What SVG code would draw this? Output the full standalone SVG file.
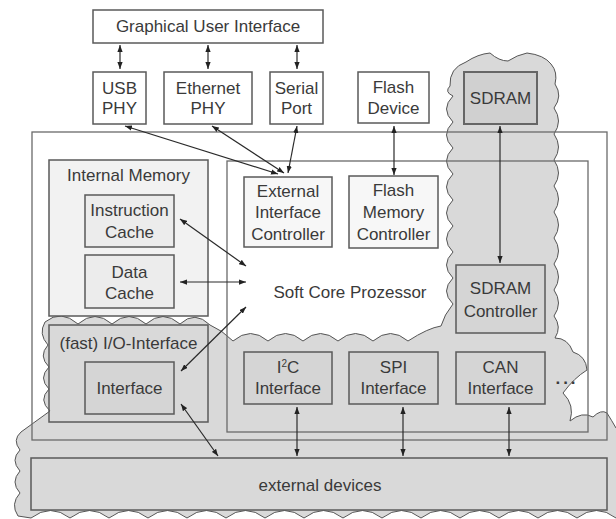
<svg xmlns="http://www.w3.org/2000/svg" width="616" height="519" viewBox="0 0 616 519">
  <defs>
    <marker id="ah" viewBox="0 0 8 6" markerWidth="7" markerHeight="5.5" refX="8" refY="3" orient="auto-start-reverse" markerUnits="userSpaceOnUse">
      <path d="M0,0 L8,3 L0,6 z" fill="#222"/>
    </marker>
  </defs>
  <style>
    text { font-family: "Liberation Sans", Arial, sans-serif; font-size: 17px; fill: #3a3a3a; text-anchor: middle; }
    .box { stroke: #5a5a5a; stroke-width: 1.5; }
    .frame { fill: none; stroke: #6a6a6a; stroke-width: 1.3; }
    .white { fill: #ffffff; }
    .light { fill: #f2f2f2; }
    .lighter { fill: #f7f7f7; }
    .shade { fill: #d5d5d5; }
    .conn line { stroke: #2a2a2a; stroke-width: 1.2; marker-start: url(#ah); marker-end: url(#ah); }
  </style>

  <!-- shaded FPGA-external area -->
  <path id="shaded-area" fill="#d9d9d9" stroke="#555" stroke-width="1" stroke-linejoin="round"
    d="M 450 86
       Q 449 68 466 62 Q 478 54 490 53 Q 499 61 508 61 Q 517 55 527 53 Q 544 55 551 64 Q 558 72 555 84
       Q 563 96 554 108 Q 563 121 554 134 Q 563 147 554 160 Q 563 173 554 186 Q 563 199 554 212
       Q 563 225 554 238 Q 563 251 554 264 Q 563 277 554 290 Q 563 303 554 316 Q 562 327 555 338
       Q 568 338 573 352 Q 586 356 587 370 Q 574 378 563 393 Q 575 405 570 421
       Q 582 411 593 417 Q 601 409 607 413 Q 612 421 616 428
       L 624 432 L 624 516 L 616 518
       Q 596.5 503 577 518 Q 557.5 503 538 518 Q 518.5 503 499 518 Q 479.5 503 460 518
       Q 440.5 503 421 518 Q 401.5 503 382 518 Q 362.5 503 343 518 Q 323.5 503 304 518
       Q 284.5 503 265 518 Q 245.5 503 226 518 Q 206.5 503 187 518 Q 167.5 503 148 518
       Q 128.5 503 109 518 Q 89.5 503 70 518 Q 50.5 503 31 518 L 18 516
       Q 10 504 20 493 Q 10 482 20 471 Q 10 460 20 450 Q 12 440 21 432
       L 50 411
       Q 38 400 49 389 Q 38 378 49 367 Q 38 356 48 345 Q 38 334 45 322
       Q 61 309 78 324 Q 95 309 112 324 Q 129 309 146 324 Q 163 309 180 324 Q 195 310 210 325
       Q 222 330 233 341
       Q 250.5 326 268 341 Q 285.5 326 303 341 Q 320.5 326 338 341 Q 355.5 326 373 341 Q 390.5 326 408 341
       Q 428 328 441 326
       Q 444 315 453 304 Q 440 291 453 278 Q 440 265 453 252 Q 440 239 453 226 Q 440 213 453 200
       Q 440 187 453 174 Q 440 161 453 148 Q 440 135 453 122 Q 440 109 453 96 Q 444 92 450 86 Z"/>

  <!-- system frames -->
  <rect id="fpga-frame" class="frame" x="32" y="132" width="575" height="308"/>
  <rect id="processor-frame" class="frame" x="227" y="161" width="361" height="271"/>

  <!-- host side -->
  <g id="gui">
    <rect class="box white" x="93" y="10" width="230" height="33"/>
    <text x="208" y="32">Graphical User Interface</text>
  </g>
  <g id="usb-phy">
    <rect class="box white" x="93" y="72" width="53" height="52"/>
    <text x="119.5" y="94">USB</text>
    <text x="119.5" y="114">PHY</text>
  </g>
  <g id="ethernet-phy">
    <rect class="box white" x="164" y="72" width="88" height="52"/>
    <text x="208" y="94">Ethernet</text>
    <text x="208" y="114">PHY</text>
  </g>
  <g id="serial-port">
    <rect class="box white" x="270" y="72" width="53" height="52"/>
    <text x="296.5" y="94">Serial</text>
    <text x="296.5" y="114">Port</text>
  </g>
  <g id="flash-device">
    <rect class="box white" x="358" y="72" width="71" height="51"/>
    <text x="393.5" y="93">Flash</text>
    <text x="393.5" y="114">Device</text>
  </g>
  <g id="sdram">
    <rect fill="#d0d0d0" stroke="#666" stroke-width="2" x="464" y="72" width="73" height="52"/>
    <text x="500.5" y="104">SDRAM</text>
  </g>

  <!-- internal memory -->
  <g id="internal-memory">
    <rect class="box light" x="49" y="160" width="159" height="156"/>
    <text x="128.5" y="181">Internal Memory</text>
  </g>
  <g id="instruction-cache">
    <rect class="box" fill="#ececec" x="85" y="195" width="89" height="52"/>
    <text x="129.5" y="216">Instruction</text>
    <text x="129.5" y="238">Cache</text>
  </g>
  <g id="data-cache">
    <rect class="box" fill="#ececec" x="85" y="255" width="89" height="53"/>
    <text x="129.5" y="278">Data</text>
    <text x="129.5" y="299">Cache</text>
  </g>

  <!-- fast I/O -->
  <g id="fast-io">
    <rect class="box" fill="none" x="49" y="325" width="159" height="97"/>
    <text x="128.5" y="349">(fast) I/O-Interface</text>
  </g>
  <g id="io-interface">
    <rect class="box shade" x="85" y="362" width="89" height="52"/>
    <text x="129.5" y="394">Interface</text>
  </g>

  <!-- processor -->
  <g id="soft-core">
    <text x="350" y="298">Soft Core Prozessor</text>
  </g>
  <g id="ext-if-controller">
    <rect class="box lighter" x="244" y="177" width="88" height="70"/>
    <text x="288" y="197">External</text>
    <text x="288" y="218">Interface</text>
    <text x="288" y="240">Controller</text>
  </g>
  <g id="flash-controller">
    <rect class="box lighter" x="349" y="176" width="89" height="72"/>
    <text x="393.5" y="196">Flash</text>
    <text x="393.5" y="218">Memory</text>
    <text x="393.5" y="240">Controller</text>
  </g>
  <g id="sdram-controller">
    <rect class="box shade" x="456" y="265" width="89" height="68"/>
    <text x="500.5" y="294">SDRAM</text>
    <text x="500.5" y="317">Controller</text>
  </g>
  <g id="i2c">
    <rect class="box shade" x="244" y="352" width="88" height="52"/>
    <text x="288" y="373">I<tspan font-size="10" dy="-6">2</tspan><tspan dy="6">C</tspan></text>
    <text x="288" y="394">Interface</text>
  </g>
  <g id="spi">
    <rect class="box shade" x="349" y="352" width="89" height="52"/>
    <text x="393.5" y="373">SPI</text>
    <text x="393.5" y="394">Interface</text>
  </g>
  <g id="can">
    <rect class="box shade" x="456" y="352" width="89" height="52"/>
    <text x="500.5" y="373">CAN</text>
    <text x="500.5" y="394">Interface</text>
  </g>
  <g id="more">
    <text x="567" y="384" letter-spacing="3" font-weight="bold">...</text>
  </g>

  <!-- peripherals -->
  <g id="external-devices">
    <rect class="box" fill="#d9d9d9" x="31" y="458" width="576" height="52"/>
    <text x="320" y="491">external devices</text>
  </g>

  <!-- connectors -->
  <g id="connectors" class="conn">
    <line x1="120" y1="45" x2="120" y2="69"/>
    <line x1="208" y1="45" x2="208" y2="69"/>
    <line x1="297" y1="45" x2="297" y2="69"/>
    <line x1="125" y1="126" x2="278" y2="174"/>
    <line x1="212" y1="126" x2="284" y2="173"/>
    <line x1="297" y1="126" x2="288" y2="173"/>
    <line x1="394" y1="126" x2="394" y2="175"/>
    <line x1="500" y1="126" x2="500" y2="263"/>
    <line x1="180" y1="219" x2="246" y2="266"/>
    <line x1="180" y1="282" x2="246" y2="282"/>
    <line x1="181" y1="371" x2="246" y2="307"/>
    <line x1="181" y1="404" x2="218" y2="456"/>
    <line x1="297" y1="407" x2="297" y2="456"/>
    <line x1="403" y1="407" x2="403" y2="456"/>
    <line x1="509" y1="407" x2="509" y2="456"/>
  </g>
</svg>
